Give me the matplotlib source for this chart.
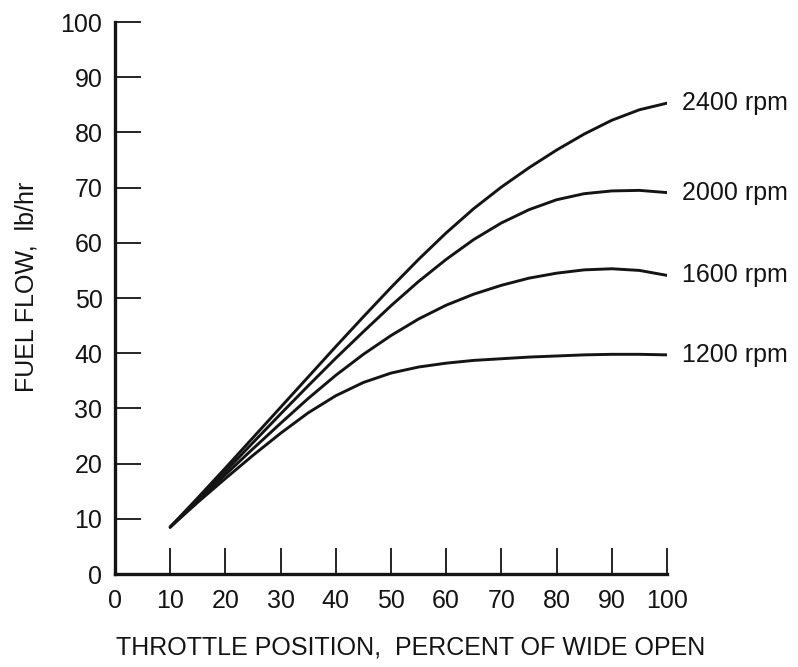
import matplotlib
matplotlib.use("Agg")
import matplotlib.pyplot as plt

# throttle position, percent of wide open
throttle = [10, 15, 20, 25, 30, 35, 40, 45, 50, 55, 60, 65, 70, 75, 80, 85, 90, 95, 100]

# fuel flow, lb/hr
flow_2400 = [8.5, 13.8, 19.2, 24.7, 30.2, 35.7, 41.2, 46.6, 51.9, 57.0, 61.8, 66.2, 70.1, 73.6, 76.8, 79.7, 82.2, 84.1, 85.3]
flow_2000 = [8.5, 13.5, 18.6, 23.8, 29.0, 34.1, 39.1, 43.9, 48.6, 53.0, 57.0, 60.6, 63.6, 66.0, 67.8, 68.9, 69.4, 69.5, 69.1]
flow_1600 = [8.5, 13.3, 18.0, 22.7, 27.3, 31.8, 36.0, 39.8, 43.2, 46.2, 48.7, 50.7, 52.3, 53.6, 54.5, 55.1, 55.3, 55.0, 54.1]
flow_1200 = [8.5, 13.0, 17.3, 21.5, 25.5, 29.2, 32.3, 34.7, 36.4, 37.5, 38.2, 38.7, 39.0, 39.3, 39.5, 39.7, 39.8, 39.8, 39.7]

series = [("2400 rpm", flow_2400), ("2000 rpm", flow_2000),
          ("1600 rpm", flow_1600), ("1200 rpm", flow_1200)]

xticks = list(range(0, 101, 10))
yticks = list(range(0, 101, 10))

plt.rcParams['font.family'] = ['Liberation Sans', 'DejaVu Sans']
ink = '#141414'

fig = plt.figure(figsize=(7.98, 6.67), dpi=100)
ax = fig.add_axes([0.1441, 0.1394, 0.6917, 0.8276])

for name, flow in series:
    ax.plot(throttle, flow, color=ink, lw=2.1, solid_capstyle='round',
            solid_joinstyle='round')
    ax.annotate(name, xy=(throttle[-1], flow[-1]), xytext=(11, 0),
                textcoords='offset points', va='center', ha='left',
                fontsize=18, color=ink, annotation_clip=False)

ax.set_xlim(0, 100)
ax.set_ylim(0, 100)
ax.set_xticks(xticks)
ax.set_yticks(yticks)

for side in ('top', 'right'):
    ax.spines[side].set_visible(False)
for side in ('left', 'bottom'):
    ax.spines[side].set_linewidth(2.4)
    ax.spines[side].set_color(ink)

ax.tick_params(direction='in', length=19, width=1.3, colors=ink,
               labelsize=18)
ax.tick_params(axis='y', pad=9)
ax.tick_params(axis='x', pad=11)

ax.set_xlabel('THROTTLE POSITION,  PERCENT OF WIDE OPEN', fontsize=18,
              color=ink, va='center')
ax.xaxis.set_label_coords(0.536, -0.134)
ax.set_ylabel('FUEL FLOW,  lb/hr', fontsize=18, color=ink, va='center')
ax.yaxis.set_label_coords(-0.161, 0.52)

fig.savefig('out.png', dpi=100, facecolor='white')
